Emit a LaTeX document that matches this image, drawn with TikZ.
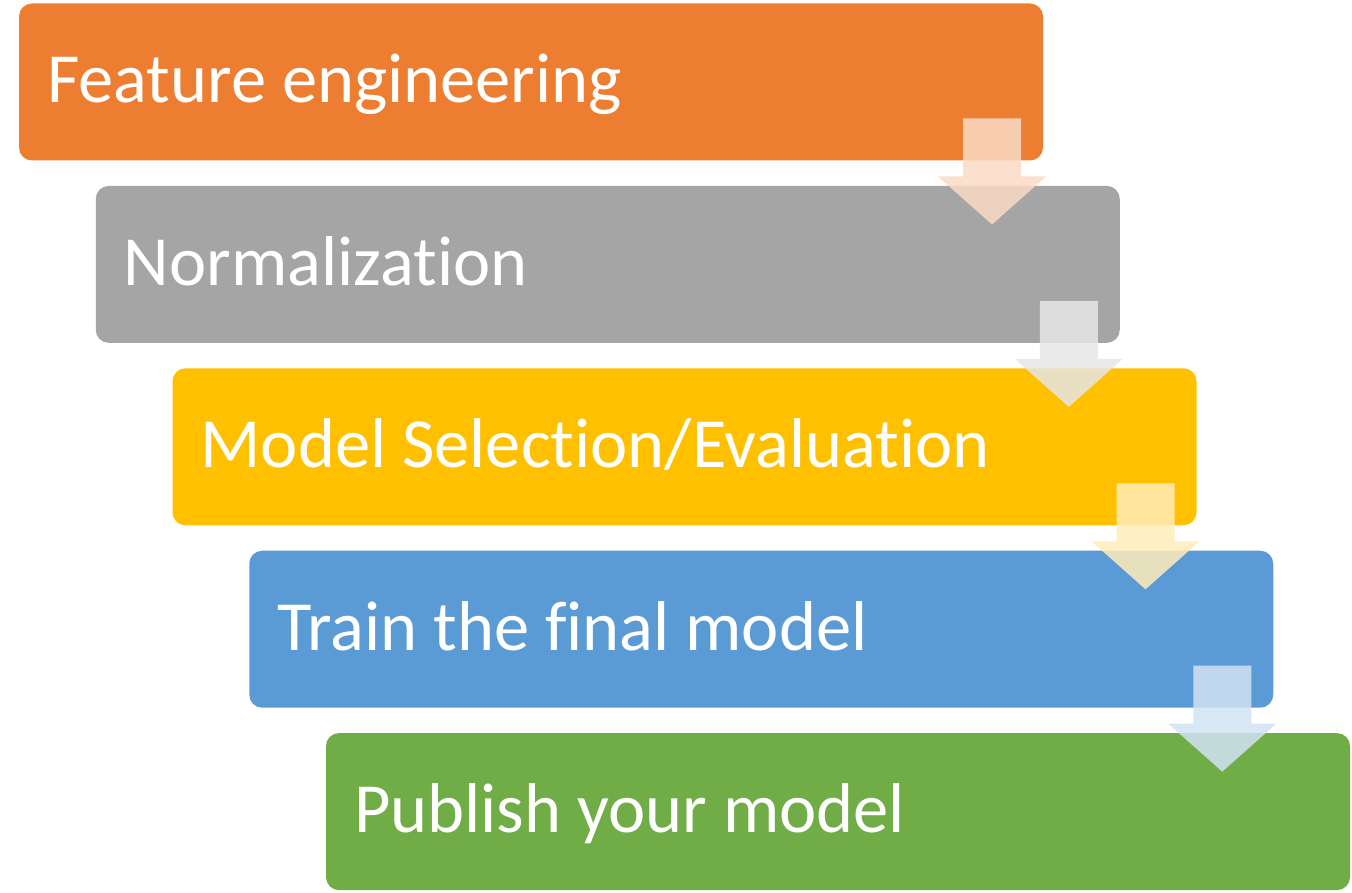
\documentclass[tikz,border=0pt]{standalone}
\usepackage{fontspec}
\setmainfont[Ligatures=NoCommon]{Carlito}
\definecolor{cOrange}{HTML}{ED7D31}
\definecolor{cGray}{HTML}{A5A5A5}
\definecolor{cYellow}{HTML}{FFC000}
\definecolor{cBlue}{HTML}{5B9BD5}
\definecolor{cGreen}{HTML}{70AD47}
\tikzset{
  stepbox/.style={fill=#1, rounded corners=13pt},
  steplabel/.style={anchor=base west, inner sep=0pt, text=white, font=\fontsize{70.5}{78}\selectfont},
  downarrow/.style={fill=#1!28!white, fill opacity=0.85, draw=none},
}
\begin{document}
\begin{tikzpicture}[x=1pt,y=-1pt]
\useasboundingbox (0,0) rectangle (1352,893);
% boxes
\foreach \i/\c in {0/cOrange,1/cGray,2/cYellow,3/cBlue,4/cGreen}{
  \pgfmathsetmacro{\xx}{19+76.75*\i}
  \pgfmathsetmacro{\yy}{3.5+182.4*\i}
  \fill[stepbox=\c] (\xx,\yy) rectangle ++(1024,157);
}
\node[steplabel] (t1) at (47,103) {Feature engineering};
\node[steplabel] (t2) at (123.75,285.4) {Normalization};
\node[steplabel] (t3) at (200.5,467.8) {Model Selection/Evaluation};
\node[steplabel] (t4) at (277.25,650.2) {Train the final model};
\node[steplabel] (t5) at (354,832.6) {Publish your model};
% arrows
\foreach \i/\c in {0/cOrange,1/cGray,2/cYellow,3/cBlue}{
  \pgfmathsetmacro{\xx}{992+76.75*\i}
  \pgfmathsetmacro{\yy}{224.5+182.4*\i}
  \fill[downarrow=\c] (\xx,\yy) -- ++(-54,-48) -- ++(25,0) -- ++(0,-58) -- ++(58,0) -- ++(0,58) -- ++(25,0) -- cycle;
}
\end{tikzpicture}
\end{document}
